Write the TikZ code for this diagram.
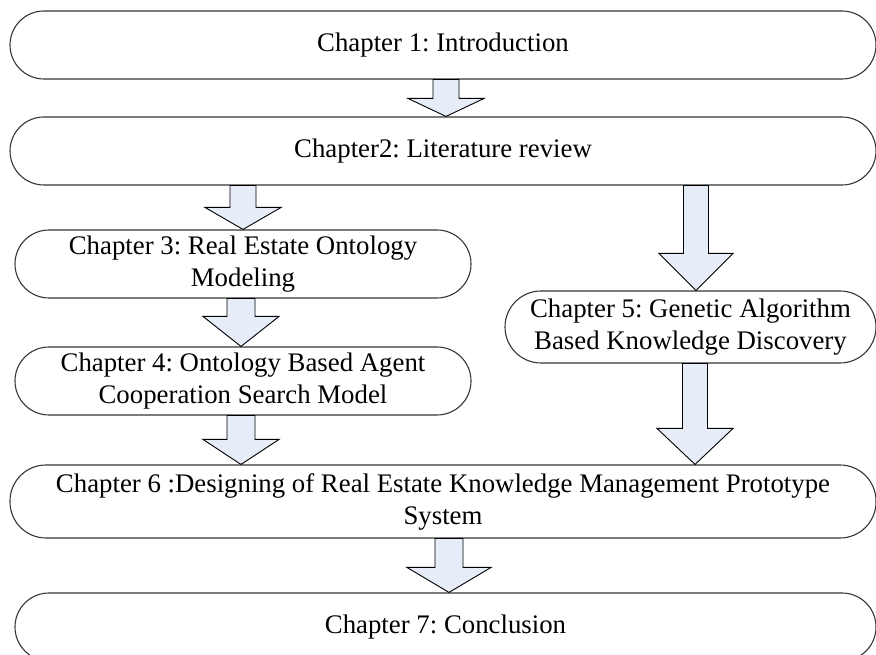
\documentclass[tikz,border=0pt]{standalone}
\usepackage{fontspec}
\setmainfont{Liberation Serif}
\usetikzlibrary{calc}
\frenchspacing
\definecolor{arrowfill}{RGB}{230,236,248}
\definecolor{edgegray}{RGB}{55,55,55}
\tikzset{
  chap/.style={draw=edgegray, line width=1.1pt, rounded corners=#1, inner sep=0pt,
    align=center, font=\fontsize{26.8}{32}\selectfont},
  fatarrowstyle/.style={fill=arrowfill, draw=black, line width=0.9pt, line join=miter},
}
% block arrow: x position, source node, target node, shaft half width, head half width, head length
\newcommand\fatarrow[6]{%
  \draw[fatarrowstyle] let \p1=(#2.south), \p2=(#3.north) in
    (#1pt-#4pt,\y1) -- (#1pt-#4pt,\y2+#6pt) -- (#1pt-#5pt,\y2+#6pt) -- (#1pt,\y2)
    -- (#1pt+#5pt,\y2+#6pt) -- (#1pt+#4pt,\y2+#6pt) -- (#1pt+#4pt,\y1) -- cycle;}
\begin{document}
\begin{tikzpicture}[x=1pt,y=1pt]
\useasboundingbox (0,0) rectangle (876,655);
\fill[white] (0,0) rectangle (876,655);

\node[chap=34pt, minimum width=866pt, minimum height=68pt] (c1) at (443,610) {Chapter 1: Introduction};
\node[chap=34pt, minimum width=866pt, minimum height=68pt] (c2) at (443,504) {Chapter2: Literature review};
\node[chap=34pt, minimum width=456pt, minimum height=68pt] (c3) at (243,391) {Chapter 3: Real Estate Ontology\\Modeling};
\node[chap=34pt, minimum width=456pt, minimum height=68pt] (c4) at (243,274) {Chapter 4: Ontology Based Agent\\Cooperation Search Model};
\node[chap=36pt, minimum width=371pt, minimum height=72pt] (c5) at (690.5,328) {Chapter 5: Genetic Algorithm\\Based Knowledge Discovery};
\node[chap=36pt, minimum width=866pt, minimum height=73pt] (c6) at (443,153.5) {Chapter 6 :Designing of Real Estate Knowledge Management Prototype\\System};
\node[chap=34pt, minimum width=861pt, minimum height=68pt] (c7) at (445.5,28) {Chapter 7: Conclusion};

\fatarrow{446}{c1}{c2}{13}{38}{18}
\fatarrow{243}{c2}{c3}{13}{38}{22}
\fatarrow{696}{c2}{c5}{12.5}{37}{37}
\fatarrow{241}{c3}{c4}{14}{38}{30}
\fatarrow{241}{c4}{c6}{14}{38}{25}
\fatarrow{695}{c5}{c6}{12.5}{38}{36}
\fatarrow{449}{c6}{c7}{14}{42}{25}
\end{tikzpicture}
\end{document}
